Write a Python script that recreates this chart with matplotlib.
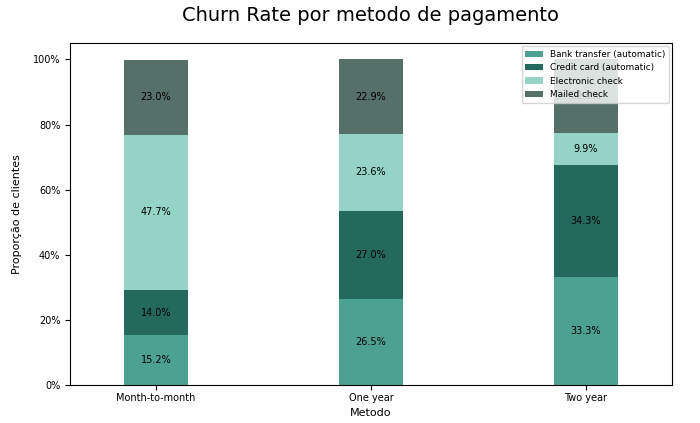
import numpy as np
import matplotlib
matplotlib.use('Agg')
import matplotlib.pyplot as plt
from matplotlib.ticker import PercentFormatter

contratos = ['Month-to-month', 'One year', 'Two year']
bank_transfer = [0.152, 0.265, 0.333]
credit_card = [0.140, 0.270, 0.343]
electronic_check = [0.477, 0.236, 0.099]
mailed_check = [0.230, 0.229, 0.225]

series = [('Bank transfer (automatic)', bank_transfer, '#4da191'),
          ('Credit card (automatic)', credit_card, '#23695c'),
          ('Electronic check', electronic_check, '#95d3c6'),
          ('Mailed check', mailed_check, '#557068')]

fig, ax = plt.subplots(figsize=(7, 4.23), dpi=100)
fig.subplots_adjust(left=0.1, right=0.96, top=0.898, bottom=0.09)

x = np.arange(len(contratos))
bottom = np.zeros(len(contratos))
for label, vals, color in series:
    vals = np.array(vals)
    ax.bar(x, vals, width=0.3, bottom=bottom, color=color, label=label)
    for xi, b, v in zip(x, bottom, vals):
        ax.text(xi, b + v / 2, '{:.1f}%'.format(v * 100), ha='center', va='center', fontsize=7)
    bottom += vals

ax.set_xticks(x)
ax.set_xticklabels(contratos, fontsize=7)
ax.tick_params(axis='x', pad=2)
ax.tick_params(axis='y', labelsize=7)
ax.yaxis.set_major_formatter(PercentFormatter(1.0, decimals=0))
ax.set_xlim(-0.4, 2.4)
ax.set_ylim(0, 1.05)
ax.set_xlabel('Metodo', fontsize=8, labelpad=4)
ax.set_ylabel('Proporção de clientes', fontsize=8, labelpad=8)
ax.set_title('Churn Rate por metodo de pagamento', fontsize=14, pad=16)
leg = ax.legend(loc='upper right', fontsize=6.4, borderaxespad=0.35)
leg.set_zorder(5)

fig.savefig('out.png')
